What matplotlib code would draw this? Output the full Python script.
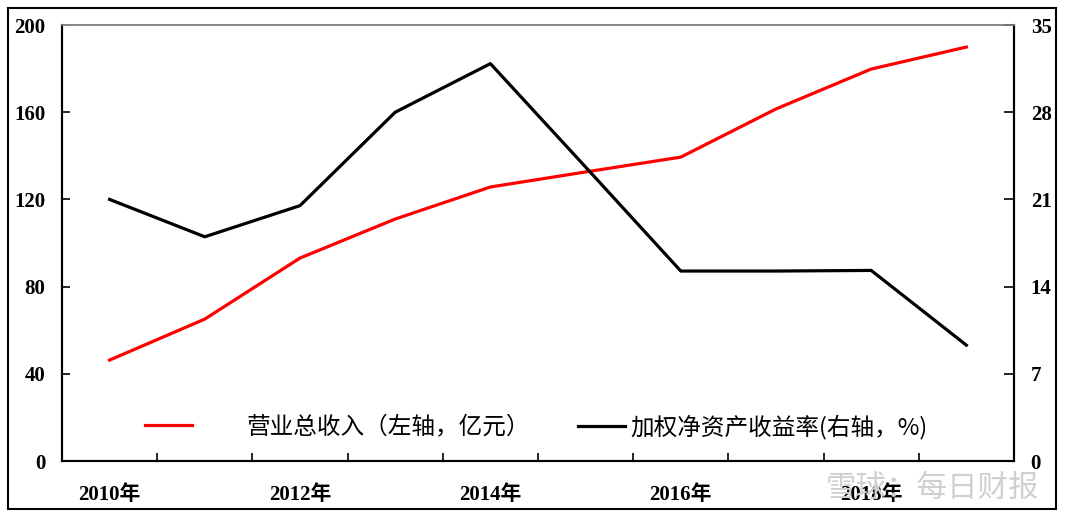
import matplotlib
matplotlib.use("Agg")
import matplotlib.pyplot as plt
from matplotlib.patches import Rectangle

plt.rcParams['font.family'] = ['Liberation Serif', 'Noto Sans CJK SC', 'DejaVu Sans']

# data
years = ["2010年", "2011年", "2012年", "2013年", "2014年",
         "2015年", "2016年", "2017年", "2018年", "2019年"]
revenue = [46.3, 65.1, 93.1, 111.0, 125.7, 132.6, 139.4, 161.5, 179.8, 189.9]
roe = [21.0, 18.0, 20.5, 28.0, 31.9, 23.6, 15.25, 15.25, 15.3, 9.3]

label_rev = "营业总收入（左轴，亿元）"
label_roe = "加权净资产收益率(右轴，%)"

fig = plt.figure(figsize=(10.65, 5.18), dpi=100)
ax = fig.add_axes([0.0582, 0.110, 0.8939, 0.8417])
ax2 = ax.twinx()

x = list(range(len(years)))
l1, = ax.plot(x, revenue, color="#ff0000", lw=2.3, label=label_rev)
l2, = ax2.plot(x, roe, color="black", lw=2.3, label=label_roe)

ax.set_xlim(-0.5, len(years) - 0.5)
ax.set_ylim(0, 200)
ax.set_yticks(range(0, 201, 40))
ax2.set_ylim(0, 35)
ax2.set_yticks(range(0, 36, 7))

# category boundary ticks, labels on every other year
ax.set_xticks([i + 0.5 for i in range(len(years) - 1)])
ax.set_xticklabels([])
ax.set_xticks(x[::2], minor=True)
ax.set_xticklabels(years[::2], minor=True, fontsize=15, fontweight="bold")
ax.tick_params(axis="x", which="major", direction="in", length=6, width=1.2)
ax.tick_params(axis="x", which="minor", length=0, pad=17)

ax.tick_params(axis="y", direction="in", length=6, width=1.2, labelsize=15, pad=12)
ax2.tick_params(axis="y", direction="in", length=7, width=1.2, labelsize=15, pad=12)
for lab in ax.get_yticklabels() + ax2.get_yticklabels():
    lab.set_fontweight("bold")

for a in (ax, ax2):
    for s in ("left", "right", "bottom"):
        a.spines[s].set_linewidth(1.5)
        a.spines[s].set_color("black")
    a.spines["top"].set_color("#888888")
    a.spines["top"].set_linewidth(1.2)

# two single-entry legends so each gap can be set on its own
leg_font = {"family": ["Noto Sans CJK SC", "DejaVu Sans"], "size": 17}
leg1 = fig.legend(handles=[l1], loc="center left", bbox_to_anchor=(0.1362, 0.176),
                  frameon=False, handlelength=2.0, handletextpad=2.3,
                  borderpad=0, borderaxespad=0, prop=leg_font)
leg2 = fig.legend(handles=[l2], loc="center left", bbox_to_anchor=(0.5427, 0.176),
                  frameon=False, handlelength=2.0, handletextpad=0.2,
                  borderpad=0, borderaxespad=0, prop=leg_font)

# outer frame
fig.patches.append(Rectangle((0.0075, 0.018), 0.984, 0.967, transform=fig.transFigure,
                             fill=False, edgecolor="black", lw=1.5))

# watermark
fig.text(0.876, 0.058, "雪球：每日财报", color="#d0d0d0", fontsize=22, ha="center",
         va="center", family=["Noto Sans CJK SC"], zorder=0)

fig.savefig("out.png", dpi=100)
